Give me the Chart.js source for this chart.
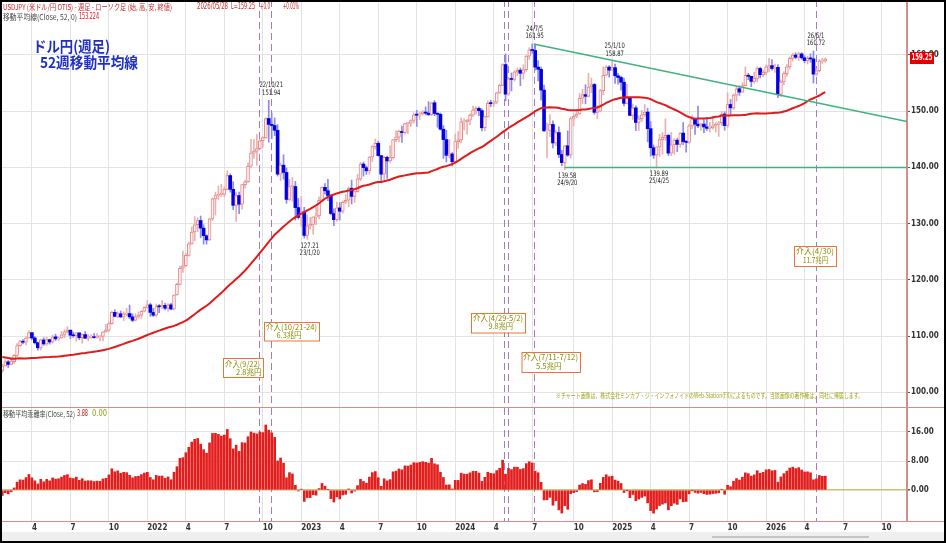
<!DOCTYPE html>
<html lang="ja">
<head>
<meta charset="utf-8">
<title>ドル円(週足) 52週移動平均線</title>
<script src="https://cdn.jsdelivr.net/npm/chart.js@4.4.1/dist/chart.umd.min.js"></script>
<style>
html,body{margin:0;padding:0;background:#fff;}
#wrap{position:relative;width:946px;height:543px;overflow:hidden;background:#fff;}
canvas{position:absolute;left:0;}
#c1{top:0;}
#c2{top:408px;}
.rl{position:absolute;left:0;width:946px;height:1px;background:#d98b8b;}
#strip{position:absolute;left:0;top:532px;width:946px;height:11px;background:#efefef;}
#thumb{position:absolute;left:712px;top:536px;width:157px;height:2px;background:#c4c4c4;}
#frame{position:absolute;left:0;top:0;width:946px;height:543px;box-sizing:border-box;border:2px solid #000;pointer-events:none;}
</style>
</head>
<body>
<div id="wrap">
  <div id="strip"></div><div id="thumb"></div>
  <canvas id="c1" width="946" height="408"></canvas>
  <canvas id="c2" width="946" height="124"></canvas>
  <div class="rl" style="top:407px"></div>
  <div class="rl" style="top:521px"></div>
  <div id="frame"></div>
</div>
<script>
// ---------------- DATA ----------------
// weekly candles, week 0 = week of 2021-01-25 ... week 278 = week of 2026-05-25
const open = [
103.80,104.70,105.40,104.95,105.45,106.55,108.30,109.00,108.90,109.65,
110.60,109.65,108.80,107.90,109.30,108.60,109.35,108.95,109.85,109.50,
109.65,110.20,110.75,111.05,110.15,110.05,110.55,109.70,110.25,109.60,
109.80,109.85,109.70,109.90,109.95,110.75,111.05,112.20,114.20,113.50,
113.95,113.40,113.90,114.00,113.40,112.80,113.40,113.70,114.40,115.10,
115.55,114.20,113.70,115.25,115.20,115.45,114.95,115.55,114.80,117.30,
119.20,122.05,122.50,124.35,126.40,128.50,129.80,130.55,129.20,127.85,
127.10,130.85,134.40,135.00,135.20,135.20,136.10,138.55,136.10,133.25,
135.00,133.45,136.95,137.45,140.20,142.55,142.90,143.35,144.75,145.30,
148.70,147.65,147.45,146.60,138.80,140.40,139.10,134.30,136.60,136.60,
132.85,131.10,132.10,127.90,129.60,129.85,131.20,131.35,134.15,136.45,
135.85,135.00,131.80,130.70,132.80,132.20,133.80,134.15,136.30,134.85,
135.70,137.95,140.60,139.95,139.40,141.85,143.70,144.30,142.10,138.80,
141.80,141.15,141.75,144.95,145.40,146.40,146.20,147.80,147.85,148.35,
149.35,149.30,149.55,149.85,149.65,149.40,151.50,149.60,149.45,146.80,
144.95,142.15,142.40,141.00,144.60,144.90,148.10,148.10,148.40,149.30,
150.20,150.50,150.10,147.05,149.00,151.40,151.35,151.60,153.25,154.60,
158.30,153.05,155.75,155.65,157.00,157.30,156.75,157.40,159.80,160.90,
160.80,157.85,157.45,153.75,146.50,146.60,147.65,144.35,146.20,142.30,
140.85,143.85,142.20,148.70,149.10,149.50,152.30,152.95,152.65,154.30,
154.75,149.80,150.00,153.65,156.40,157.85,157.30,157.75,156.30,156.00,
155.15,151.40,152.30,149.25,150.60,148.00,148.65,149.35,149.85,146.90,
143.50,142.20,143.65,144.95,145.35,145.70,142.55,144.00,144.85,144.10,
146.10,144.60,144.45,147.40,148.60,147.70,147.40,147.70,147.20,146.95,
147.05,147.40,147.65,147.95,149.50,147.45,151.20,150.60,152.85,154.00,
153.40,154.55,156.40,156.20,155.30,155.85,157.60,156.50,156.90,157.90,
158.10,157.60,157.80,153.00,155.20,156.70,157.90,159.40,160.00,159.60,
160.20,159.50,159.00,159.40,159.30,156.60,157.20,158.90,158.90];
const high = [
104.95,105.77,105.65,106.22,106.70,108.64,109.24,109.36,109.85,110.97,
110.60,109.90,108.90,109.45,109.70,109.80,109.45,110.20,110.33,109.85,
110.82,111.12,111.66,111.05,110.70,110.60,110.60,110.35,110.80,110.25,
110.25,110.42,110.45,110.00,110.80,112.08,112.50,114.45,114.70,114.30,
114.45,114.30,114.95,115.52,113.95,113.95,114.30,114.50,115.20,116.35,
115.85,114.90,115.70,115.60,116.34,115.80,115.75,115.80,117.35,119.40,
122.45,125.10,124.70,126.70,129.40,131.25,131.00,131.35,129.80,128.00,
130.95,134.55,135.60,136.70,137.00,136.60,139.40,138.85,137.45,135.50,
135.60,137.00,137.75,140.80,144.99,144.95,145.90,144.95,145.45,148.85,
151.94,149.70,148.80,147.60,140.80,142.25,139.90,137.85,138.20,137.50,
134.50,134.80,132.90,131.55,131.10,131.20,132.90,134.75,136.55,137.10,
137.90,135.10,132.65,133.85,133.75,134.05,135.15,136.55,137.75,135.75,
138.75,140.90,140.95,140.25,141.95,143.85,145.05,144.65,142.10,142.00,
142.00,143.90,145.00,146.55,146.65,147.35,147.85,147.95,148.45,149.70,
150.16,149.85,150.10,150.77,151.70,151.60,151.90,149.75,149.70,147.45,
146.60,144.95,142.65,145.95,146.40,148.80,148.70,148.50,149.55,150.90,
150.80,150.80,150.40,149.15,151.85,151.97,151.90,153.40,154.80,158.45,
160.20,155.95,156.80,157.20,157.70,157.70,158.25,159.95,161.30,161.95,
161.80,159.00,157.85,154.65,147.90,149.40,148.30,146.55,147.20,143.05,
143.95,146.50,149.00,149.55,150.30,153.20,153.90,154.70,156.75,155.90,
154.95,151.00,153.85,157.90,158.10,158.10,158.87,158.40,156.75,156.25,
155.90,154.80,152.40,151.25,150.95,149.20,150.15,151.20,150.50,148.15,
144.00,143.70,145.90,146.20,148.65,145.90,146.25,145.10,145.20,146.20,
148.00,144.80,147.65,149.20,148.70,150.90,147.90,148.50,148.80,148.00,
149.15,148.00,148.20,149.95,149.90,153.25,152.10,153.10,154.40,154.50,
155.05,157.90,156.75,156.20,156.95,157.90,157.80,157.30,158.20,159.40,
159.20,158.40,158.30,155.60,157.00,158.30,159.70,160.30,160.40,160.50,
160.40,159.90,159.80,160.20,160.72,157.60,159.20,159.40,159.50];
const low = [
103.55,104.60,104.40,104.92,105.10,106.30,108.20,108.60,108.41,109.60,
109.35,108.60,107.48,107.50,108.34,108.34,108.55,108.70,109.20,109.20,
109.60,109.70,110.50,109.53,109.75,109.07,109.35,108.72,109.55,109.11,
109.60,109.60,109.55,109.12,109.11,110.70,110.82,112.10,113.40,113.25,
113.30,112.75,113.60,113.10,112.55,112.70,113.15,113.15,114.30,115.00,
113.50,113.47,113.47,114.15,114.90,114.65,114.40,114.65,114.60,117.25,
119.10,121.30,122.40,124.20,126.30,126.95,128.60,127.50,126.35,126.35,
127.00,130.50,131.50,134.30,134.75,134.80,136.00,135.60,132.50,130.40,
131.75,132.55,136.30,137.35,139.90,141.65,140.35,143.30,143.55,145.20,
144.50,145.10,145.65,138.45,137.65,137.90,133.60,134.10,134.00,130.60,
130.80,129.50,127.45,127.21,129.00,128.10,129.80,130.85,133.95,135.25,
134.10,131.55,129.65,130.40,130.65,131.85,133.55,133.00,133.50,133.75,
135.60,137.60,138.45,138.75,138.80,141.05,143.25,142.00,137.25,137.70,
138.05,140.90,141.50,144.60,144.55,144.45,145.90,146.00,147.30,147.90,
147.30,148.50,149.30,149.30,149.20,149.20,149.20,147.15,146.65,141.60,
140.95,141.70,140.25,140.80,143.40,144.35,146.65,145.90,147.60,149.05,
149.45,149.20,146.50,146.50,148.95,150.80,150.80,151.35,153.15,154.55,
151.85,152.80,153.60,155.35,156.35,154.55,155.70,157.10,159.25,160.30,
157.30,155.40,151.95,146.40,141.70,145.45,143.45,143.85,141.75,140.30,
139.58,141.95,141.65,147.35,148.85,149.45,151.35,151.30,152.55,153.30,
149.45,148.65,149.85,152.90,156.30,156.05,157.25,154.95,154.80,153.75,
150.95,151.30,149.20,148.55,146.55,146.55,148.15,149.10,144.55,142.05,
141.60,139.89,141.95,142.35,144.85,142.10,142.10,142.35,142.80,143.60,
144.05,142.70,144.25,146.90,145.85,147.05,146.60,146.20,146.60,146.30,
146.80,146.30,145.50,147.45,146.60,147.10,149.40,150.30,151.80,152.80,
153.35,154.45,155.60,154.35,154.95,155.20,155.90,156.10,156.50,157.00,
157.30,156.90,152.40,152.60,154.70,156.20,157.50,158.90,159.30,159.00,
159.20,158.60,158.40,158.70,155.00,156.30,157.00,158.50,158.70];
const close = [
104.70,105.40,104.95,105.45,106.55,108.30,109.00,108.90,109.65,110.60,
109.65,108.80,107.90,109.30,108.60,109.35,108.95,109.85,109.50,109.65,
110.20,110.75,111.05,110.15,110.05,110.55,109.70,110.25,109.60,109.80,
109.85,109.70,109.90,109.95,110.75,111.05,112.20,114.20,113.50,113.95,
113.40,113.90,114.00,113.40,112.80,113.40,113.70,114.40,115.10,115.55,
114.20,113.70,115.25,115.20,115.45,114.95,115.55,114.80,117.30,119.20,
122.05,122.50,124.35,126.40,128.50,129.80,130.55,129.20,127.85,127.10,
130.85,134.40,135.00,135.20,135.20,136.10,138.55,136.10,133.25,135.00,
133.45,136.95,137.45,140.20,142.55,142.90,143.35,144.75,145.30,148.70,
147.65,147.45,146.60,138.80,140.40,139.10,134.30,136.60,136.60,132.85,
131.10,132.10,127.90,129.60,129.85,131.20,131.35,134.15,136.45,135.85,
135.00,131.80,130.70,132.80,132.20,133.80,134.15,136.30,134.85,135.70,
137.95,140.60,139.95,139.40,141.85,143.70,144.30,142.10,138.80,141.80,
141.15,141.75,144.95,145.40,146.40,146.20,147.80,147.85,148.35,149.35,
149.30,149.55,149.85,149.65,149.40,151.50,149.60,149.45,146.80,144.95,
142.15,142.40,141.00,144.60,144.90,148.10,148.10,148.40,149.30,150.20,
150.50,150.10,147.05,149.00,151.40,151.35,151.60,153.25,154.60,158.30,
153.05,155.75,155.65,157.00,157.30,156.75,157.40,159.80,160.90,160.80,
157.85,157.45,153.75,146.50,146.60,147.65,144.35,146.20,142.30,140.85,
143.85,142.20,148.70,149.10,149.50,152.30,152.95,152.65,154.30,154.75,
149.80,150.00,153.65,156.40,157.85,157.30,157.75,156.30,156.00,155.15,
151.40,152.30,149.25,150.60,148.00,148.65,149.35,149.85,146.90,143.50,
142.20,143.65,144.95,145.35,145.70,142.55,144.00,144.85,144.10,146.10,
144.60,144.45,147.40,148.60,147.70,147.40,147.70,147.20,146.95,147.05,
147.40,147.65,147.95,149.50,147.45,151.20,150.60,152.85,154.00,153.40,
154.55,156.40,156.20,155.30,155.85,157.60,156.50,156.90,157.90,158.10,
157.60,157.80,153.00,155.20,156.70,157.90,159.40,160.00,159.60,160.20,
159.50,159.00,159.40,159.30,156.60,157.20,158.90,158.90,159.25];
// 51 weekly closes before week 0 (Feb 2020 - Jan 2021), warm-up for the 52-week average
const priorCloses = [
109.75,109.77,111.60,107.90,105.35,107.90,110.80,107.90,108.50,108.50,
107.50,107.50,106.90,106.60,107.10,107.60,107.80,109.60,107.40,106.90,
107.20,107.50,106.90,107.00,106.10,105.90,105.90,106.60,105.80,105.40,
106.20,106.10,104.60,105.60,105.30,105.60,105.40,104.70,104.70,103.40,
104.60,103.80,104.10,104.20,104.00,103.30,103.60,103.20,103.90,103.90,
103.80];
const maPeriod = 52;
const tickWeeks  = [10,23,36,49,62,75,88,101,114,127,140,153,166,179,193,206,219,232,245,258,271,284,297];
const tickLabels = ['4','7','10','2022','4','7','10','2023','4','7','10','2024','4','7','10','2025','4','7','10','2026','4','7','10'];
const priceTicks = [100,110,120,130,140,150,160];
const devTicks = [0,8,16];
const interventionWeeks = [86.8, 90.9, 169.6, 170.8, 179.6, 274.8];
const trendLine = [[179.5,161.95],[305.6,148.15]];
const supportLine = [[190,140.0],[305.6,140.0]];
const extremeLabels = [
  {w:90,  kind:'high', t:['22/10/21','151.94']},
  {w:103, kind:'low',  t:['127.21','23/1/20']},
  {w:179, kind:'high', t:['24/7/5','161.95']},
  {w:206, kind:'high', t:['25/1/10','158.87']},
  {w:190, kind:'low',  t:['139.58','24/9/20']},
  {w:221, kind:'low',  t:['139.89','25/4/25']},
  {w:274, kind:'high', t:['26/5/1','160.72']}
];
const interventionNotes = [
  ['介入(9/22)','2.8兆円'],
  ['介入(10/21-24)','6.3兆円'],
  ['介入(4/29-5/2)','9.8兆円'],
  ['介入(7/11-7/12)','5.5兆円'],
  ['介入(4/30)','11.7兆円']
];
// values printed in the panel headers of the reference
const headerValues = {date: '2026/05/28', last: 'L=159.25', chg: '+0.0', pct: '+0.01%', ma: '153.224', dev: '3.88', zero: '0.00'};

// ---------------- DERIVED ----------------
const weeks = close.map((_, i) => i);
const allClose = priorCloses.concat(close);
const ma = close.map((_, i) => {
  const end = i + priorCloses.length; let s = 0;
  for (let k = end - maPeriod + 1; k <= end; k++) s += allClose[k];
  return s / maPeriod;
});
const deviation = close.map((c, i) => (c - ma[i]) / ma[i] * 100);
const isUp = i => close[i] >= open[i];

// ---------------- LAYOUT / STYLE ----------------
const CJK = '"Noto Sans CJK JP","Noto Sans",sans-serif';
const NUMF = '"DejaVu Sans Condensed","DejaVu Sans",sans-serif';
const X_MIN = -0.1, X_MAX = 305.6;
const noteLayout = [
  {box:[223,358,40,19],   l1:[225,260,363.5],   l2:[236,261.5,372]},
  {box:[264,322,55,18.5], l1:[266,317,326.5],   l2:[276.5,301.5,334.5]},
  {box:[471,313,54,19.5], l1:[473,523,317.5],   l2:[488.5,513,326]},
  {box:[521.5,352,58.5,20], l1:[523,578,357],   l2:[536,561.5,365.5]},
  {box:[794,246,42,20],   l1:[796,834,251],     l2:[803,828,260]}
];

function txt(ctx, s, x, y, o) {
  ctx.save();
  ctx.font = o.font; ctx.fillStyle = o.color; ctx.textBaseline = 'middle'; ctx.textAlign = 'left';
  const m = ctx.measureText(s).width;
  const sx = o.w ? o.w / m : (o.sx || 1);
  const W = m * sx;
  let x0 = x;
  if (o.align === 'center') x0 = x - W / 2; else if (o.align === 'right') x0 = x - W;
  ctx.translate(x0, y); ctx.scale(sx, 1); ctx.fillText(s, 0, 0);
  ctx.restore();
}
function span(ctx, s, a, o) { txt(ctx, s, a[0], a[2], Object.assign({}, o, {w: a[1] - a[0]})); }

function xAxis(showLabels) {
  return {
    type: 'linear', min: X_MIN, max: X_MAX, offset: false,
    afterBuildTicks: s => { s.ticks = tickWeeks.map(v => ({value: v})); },
    afterFit: s => { s.height = showLabels ? 11 : 0; s.paddingLeft = 0; s.paddingRight = 0; },
    grid: {color: '#e3e3e3', lineWidth: 1, drawTicks: false, offset: false},
    border: {display: false},
    ticks: showLabels ? {
      display: true, autoSkip: false, maxRotation: 0, minRotation: 0, align: 'start', padding: 2,
      color: '#333', font: {family: NUMF, size: 8, weight: 'bold'},
      callback: v => { const k = tickWeeks.indexOf(v); return k >= 0 ? tickLabels[k] : ''; }
    } : {display: false}
  };
}
function yAxis(min, max, arr, gridColor, gridWidth) {
  return {
    position: 'right', min: min, max: max,
    afterBuildTicks: s => { s.ticks = arr.map(v => ({value: v})); },
    afterFit: s => { s.width = 39; s.paddingTop = 0; s.paddingBottom = 0; },
    grid: {color: gridColor, lineWidth: gridWidth, drawTicks: true, tickLength: 3, tickColor: '#555'},
    border: {display: true, color: '#d98b8b', width: 2},
    ticks: {padding: 1, color: '#333', font: {family: NUMF, size: 8, weight: 'bold'},
      callback: v => Number(v).toFixed(2)}
  };
}
function dashed(chart) {
  const {ctx, chartArea: a, scales: {x}} = chart;
  ctx.save();
  ctx.beginPath(); ctx.rect(a.left, 0, a.right - a.left, a.bottom); ctx.clip();
  ctx.strokeStyle = '#a77bb8'; ctx.lineWidth = 1; ctx.setLineDash([7, 4]);
  interventionWeeks.forEach(w => {
    const px = Math.round(x.getPixelForValue(w)) + 0.5;
    ctx.beginPath(); ctx.moveTo(px, 0); ctx.lineTo(px, a.bottom); ctx.stroke();
  });
  ctx.restore();
}

const mainDecor = {
  id: 'mainDecor',
  beforeDatasetsDraw(chart) { dashed(chart); },
  afterDraw(chart) {
    const {ctx, scales: {x, y}} = chart;
    const red = '#c62828';
    txt(ctx, 'USDJPY (米ドル/円 OTIS) - 週足 - ローソク足 (始, 高, 安, 終値)', 3, 6.5, {font: '8px ' + CJK, color: red, w: 169});
    txt(ctx, headerValues.date, 197, 6.5, {font: '8px ' + NUMF, color: red, w: 31});
    txt(ctx, headerValues.last, 231, 6.5, {font: '8px ' + NUMF, color: red, w: 24});
    txt(ctx, headerValues.chg, 260, 6.5, {font: '8px ' + NUMF, color: red, w: 10});
    txt(ctx, headerValues.pct, 283, 6.5, {font: '8px ' + NUMF, color: red, w: 16});
    txt(ctx, '移動平均線(Close, 52, 0)', 3, 17, {font: '8px ' + CJK, color: '#444', w: 74});
    txt(ctx, headerValues.ma, 79, 17, {font: '8px ' + NUMF, color: '#d01010', w: 20});
    txt(ctx, 'ドル円(週足)', 33, 46, {font: 'bold 15px ' + CJK, color: '#1f2fc6', w: 77});
    txt(ctx, '52週移動平均線', 40, 62, {font: 'bold 15px ' + CJK, color: '#1f2fc6', w: 98});
    extremeLabels.forEach(L => {
      const px = x.getPixelForValue(L.w) + 2.5;
      const py = y.getPixelForValue(L.kind === 'high' ? high[L.w] : low[L.w]);
      const o = {font: '7.5px "DejaVu Sans",sans-serif', color: '#222', sx: 0.7, align: 'center'};
      if (L.kind === 'high') { txt(ctx, L.t[0], px, py - 15, o); txt(ctx, L.t[1], px, py - 7.5, o); }
      else { txt(ctx, L.t[0], px, py + 6.5, o); txt(ctx, L.t[1], px, py + 13.5, o); }
    });
    interventionNotes.forEach((n, k) => {
      const g = noteLayout[k];
      ctx.save();
      ctx.fillStyle = '#fff'; ctx.fillRect(g.box[0], g.box[1], g.box[2], g.box[3]);
      ctx.strokeStyle = '#e8763a'; ctx.lineWidth = 1;
      ctx.strokeRect(g.box[0] + 0.5, g.box[1] + 0.5, g.box[2], g.box[3]);
      ctx.restore();
      span(ctx, n[0], g.l1, {font: '8px ' + CJK, color: '#8a8a00'});
      span(ctx, n[1], g.l2, {font: '8px ' + CJK, color: '#8a8a00'});
    });
    txt(ctx, '※チャート画像は、株式会社ミンカブ・ジ・インフォノイドのWeb-Station(FX)によるものです。当該画像の著作権は、同社に帰属します。',
        556, 395.5, {font: '7px ' + CJK, color: '#a3a31a', w: 307});
    const last = close[close.length - 1];
    const ty = Math.round(y.getPixelForValue(last)) - 1;
    ctx.save(); ctx.fillStyle = '#e00000'; ctx.fillRect(910, ty - 6, 24, 12); ctx.restore();
    txt(ctx, last.toFixed(2), 922, ty, {font: 'bold 8px ' + NUMF, color: '#fff', w: 21, align: 'center'});
  }
};

const lowerDecor = {
  id: 'lowerDecor',
  beforeDatasetsDraw(chart) { dashed(chart); },
  afterDraw(chart) {
    const {ctx} = chart;
    txt(ctx, '移動平均乖離率(Close, 52)', 3, 6, {font: '8px ' + CJK, color: '#444', w: 72});
    txt(ctx, headerValues.dev, 77, 6, {font: '8px ' + NUMF, color: '#d01010', w: 11});
    txt(ctx, headerValues.zero, 92, 6, {font: '8px ' + NUMF, color: '#9a9a10', w: 15});
  }
};

const common = {
  responsive: false, animation: false, devicePixelRatio: 1, events: [],
  plugins: {legend: {display: false}, tooltip: {enabled: false}}
};

new Chart(document.getElementById('c1'), {
  type: 'bar',
  data: {datasets: [
    {type: 'line', data: trendLine.map(p => ({x: p[0], y: p[1]})), borderColor: '#3fb27f', borderWidth: 1.5, pointRadius: 0, order: 1},
    {type: 'line', data: supportLine.map(p => ({x: p[0], y: p[1]})), borderColor: '#3fb27f', borderWidth: 1.5, pointRadius: 0, order: 1},
    {type: 'line', data: weeks.map(i => ({x: i, y: ma[i]})), borderColor: '#e01b1b', borderWidth: 2, pointRadius: 0, order: 2},
    {type: 'bar', data: weeks.map(i => ({x: i, y: [open[i], close[i]]})), grouped: false, barThickness: 3, minBarLength: 1,
      borderSkipped: false,
      backgroundColor: c => isUp(c.dataIndex) ? '#fff4f4' : '#0000e6',
      borderColor: c => isUp(c.dataIndex) ? '#e58888' : '#0000e6',
      borderWidth: c => isUp(c.dataIndex) ? 1 : 0, order: 3},
    {type: 'bar', data: weeks.map(i => ({x: i, y: [low[i], high[i]]})), grouped: false, barThickness: 1,
      backgroundColor: c => isUp(c.dataIndex) ? '#eab0b0' : '#8a8aec', order: 4}
  ]},
  options: Object.assign({}, common, {
    layout: {padding: {left: 2, right: 0, top: 2, bottom: 1}},
    scales: {
      x: xAxis(false),
      y: yAxis(97.37, 169.43, priceTicks, '#e3e3e3', 1)
    }
  }),
  plugins: [mainDecor]
});

new Chart(document.getElementById('c2'), {
  type: 'bar',
  data: {datasets: [
    {data: weeks.map(i => ({x: i, y: deviation[i]})), backgroundColor: '#e31c1c', barThickness: 2, grouped: false}
  ]},
  options: Object.assign({}, common, {
    layout: {padding: {left: 2, right: 0, top: 0, bottom: 0}},
    scales: {
      x: xAxis(true),
      y: yAxis(-8.55, 22.62, devTicks,
        c => (c.tick && c.tick.value === 0) ? '#c9c27a' : '#e3e3e3',
        c => (c.tick && c.tick.value === 0) ? 1.5 : 1)
    }
  }),
  plugins: [lowerDecor]
});
</script>
</body>
</html>
